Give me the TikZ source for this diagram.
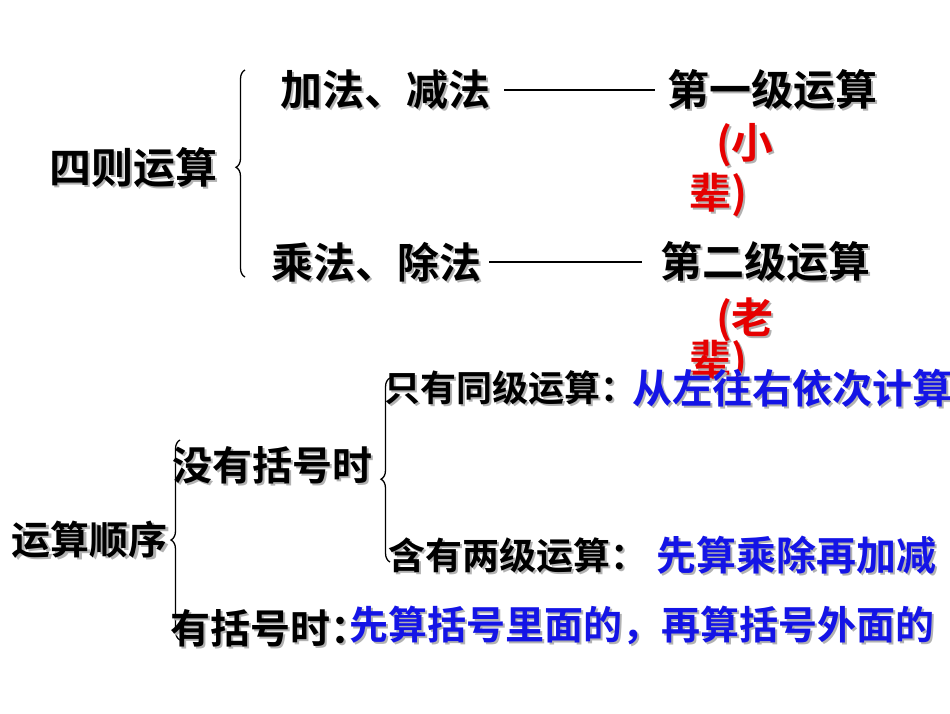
\documentclass[tikz,border=0pt]{standalone}
\usepackage{fontspec}
\newfontfamily\cjk{Noto Sans CJK SC Bold}
\usetikzlibrary{decorations.pathreplacing}
\tikzset{
 txt/.style={inner sep=0pt,font=\cjk\fontsize{#1}{#1}\selectfont},
 br/.style={draw,line width=1.3pt,decorate,decoration={brace,amplitude=9pt,aspect=#1}},
 ln/.style={draw,line width=1.8pt}
}
\newcommand\T[5]{% name, pos, size, colour, text
 \node[txt=#3,text=black!30,xshift=2pt,yshift=-2pt] at (#2) {#5};
 \node[txt=#3,text=#4] (#1) at (#2) {#5};}
\begin{document}
\begin{tikzpicture}[x=1pt,y=-1pt]
\useasboundingbox (0,0) rectangle (950,713);
\definecolor{bl}{RGB}{20,20,230}
\definecolor{rd}{RGB}{230,0,0}
\T{sz}{133,168}{42}{black}{四则运算}
\draw[br=0.53] (245,277) -- (245,70);
\T{jj}{385,90}{42}{black}{加法、减法}
\T{d1}{772,90}{42}{black}{第一级运算}
\T{x1}{745,145}{42}{rd}{(小}
\T{x2}{718,195}{42}{rd}{辈)}
\T{cc}{376,262}{42}{black}{乘法、除法}
\T{d2}{765,262}{42}{black}{第二级运算}
\T{l1}{745,320}{42}{rd}{(老}
\T{l2}{718,362}{42}{rd}{辈)}
\draw[ln] ([xshift=14pt]jj.east) -- ([xshift=-12pt]d1.west);
\draw[ln] ([xshift=8pt]cc.east) -- ([xshift=-18pt]d2.west);
\T{o1}{510,388}{36}{black}{只有同级运算：}
\T{o1b}{792,388}{40}{bl}{从左往右依次计算}
\T{ys}{90,540}{39}{black}{运算顺序}
\draw[br=0.5] (180,640) -- (180,440);
\T{mk}{272,465}{40}{black}{没有括号时}
\draw[br=0.45] (390,562) -- (390,378);
\T{o2}{518,555}{37}{black}{含有两级运算：}
\T{o2b}{796,555}{40}{bl}{先算乘除再加减}
\T{yk}{270,628}{40}{black}{有括号时：}
\T{ykb}{642,625}{39}{bl}{先算括号里面的，再算括号外面的}
\end{tikzpicture}
\end{document}
